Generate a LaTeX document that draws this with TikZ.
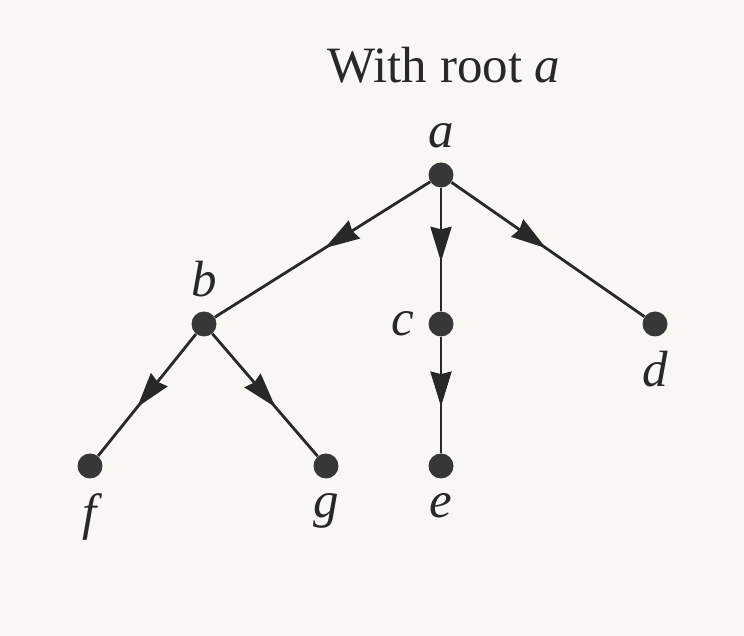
\documentclass[tikz,border=0pt]{standalone}
\usepackage{fontspec}
\setmainfont{Liberation Serif}
\usepackage{tikz}
\usetikzlibrary{arrows.meta,decorations.markings}
\definecolor{inkgray}{RGB}{40,40,40}
\definecolor{dotgray}{RGB}{55,55,55}
\definecolor{pagebg}{RGB}{248,247,244}

\begin{document}
\begin{tikzpicture}[
        dot/.style={circle, fill=dotgray, inner sep=0pt, minimum size=0.5cm},
        lbl/.style={font=\fontsize{29}{34}\selectfont\itshape, inner sep=0pt, text=inkgray},
        every label/.style={lbl},
        label distance=0.28cm,
        edge/.style={draw=inkgray, line width=1.6pt},
        midarrow/.style={edge, postaction={decorate}, decoration={markings,
            mark=at position #1 with {\arrow[inkgray]{Stealth[length=0.7cm, width=0.42cm, inset=0.05cm]}}}},
        midarrow/.default=0.6]

        \fill[pagebg] (0,0) rectangle (14.88,12.72);
        \useasboundingbox (0,0) rectangle (14.88,12.72);

        \node[font=\fontsize{29}{34}\selectfont, inner sep=0pt, text=inkgray] (TITLE) at (8.88,11.42) {With root \textit{a}};

        \node[dot, label=above:a] (A) at (8.82,9.22) {};
        \node[dot, label=above:b] (B) at (4.08,6.24) {};
        \node[dot, label=left:c] (C) at (8.82,6.24) {};
        \node[dot, label=below:d] (D) at (13.10,6.24) {};
        \node[dot, label=below:f] (F) at (1.80,3.40) {};
        \node[dot, label=below:g] (G) at (6.52,3.40) {};
        \node[dot, label=below:e] (E) at (8.82,3.40) {};

        \draw[midarrow=0.49] (A) -- (B);
        \draw[midarrow] (A) -- (C);
        \draw[midarrow=0.49] (A) -- (D);
        \draw[midarrow] (B) -- (F);
        \draw[midarrow] (B) -- (G);
        \draw[midarrow] (C) -- (E);

    \end{tikzpicture}
\end{document}
